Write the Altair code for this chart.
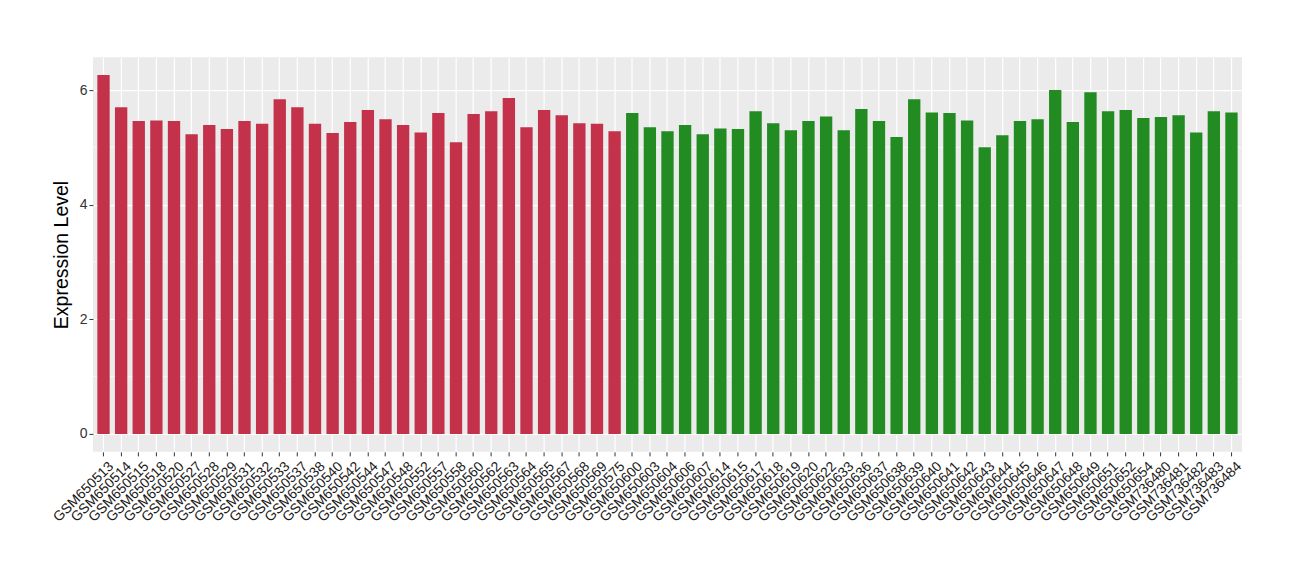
import altair as alt
import pandas as pd

samples_a = ["GSM650513", "GSM650514", "GSM650515", "GSM650518", "GSM650520", "GSM650527",
             "GSM650528", "GSM650529", "GSM650531", "GSM650532", "GSM650533", "GSM650537",
             "GSM650538", "GSM650540", "GSM650542", "GSM650544", "GSM650547", "GSM650548",
             "GSM650552", "GSM650557", "GSM650558", "GSM650560", "GSM650562", "GSM650563",
             "GSM650564", "GSM650565", "GSM650567", "GSM650568", "GSM650569", "GSM650575"]
values_a = [6.26, 5.70, 5.46, 5.47, 5.46, 5.23, 5.39, 5.32, 5.46, 5.41,
            5.84, 5.70, 5.41, 5.25, 5.44, 5.65, 5.49, 5.39, 5.26, 5.60,
            5.09, 5.58, 5.63, 5.86, 5.35, 5.65, 5.56, 5.42, 5.41, 5.28]

samples_b = ["GSM650600", "GSM650603", "GSM650604", "GSM650606", "GSM650607", "GSM650614",
             "GSM650615", "GSM650617", "GSM650618", "GSM650619", "GSM650620", "GSM650622",
             "GSM650633", "GSM650636", "GSM650637", "GSM650638", "GSM650639", "GSM650640",
             "GSM650641", "GSM650642", "GSM650643", "GSM650644", "GSM650645", "GSM650646",
             "GSM650647", "GSM650648", "GSM650649", "GSM650651", "GSM650652", "GSM650654",
             "GSM736480", "GSM736481", "GSM736482", "GSM736483", "GSM736484"]
values_b = [5.60, 5.35, 5.28, 5.39, 5.23, 5.33, 5.32, 5.63, 5.42, 5.30,
            5.46, 5.54, 5.30, 5.67, 5.46, 5.18, 5.84, 5.61, 5.60, 5.47,
            5.00, 5.21, 5.46, 5.49, 6.00, 5.44, 5.96, 5.63, 5.65, 5.51,
            5.53, 5.56, 5.26, 5.63, 5.61]

groups = ["Group A", "Group B"]
group_colors = ["#C3314A", "#228B22"]
major_ticks = [0, 2, 4, 6]
minor_ticks = [1, 3, 5]

df = pd.DataFrame({
    "sample": samples_a + samples_b,
    "value": values_a + values_b,
    "group": [groups[0]] * len(samples_a) + [groups[1]] * len(samples_b),
})
order = samples_a + samples_b

ydomain = [-0.313, 6.573]
yscale = alt.Scale(domain=ydomain, nice=False, zero=False)
yaxis = alt.Axis(title="Expression Level", values=major_ticks, titleFontSize=19.5,
                 titleFontWeight="normal", titleColor="black", titlePadding=8,
                 labelFontSize=14, labelColor="#333333", labelPadding=2,
                 tickSize=4, tickColor="#333333", domain=False,
                 grid=True, gridColor="white", gridWidth=1.2)

minor = alt.Chart(pd.DataFrame({"v": minor_ticks})).mark_rule(
    color="white", strokeWidth=0.6
).encode(y=alt.Y("v:Q", scale=yscale, axis=yaxis))

bars = alt.Chart(df).mark_bar().encode(
    x=alt.X("sample:N", sort=order,
            scale=alt.Scale(paddingInner=0.3, paddingOuter=0.25),
            axis=alt.Axis(title=None, labelAngle=-45, labelAlign="right", labelBaseline="top",
                          labelFontSize=14, labelColor="#1A1A1A", labelPadding=3, labelOffset=3,
                          tickSize=4, tickColor="#333333", domain=False,
                          grid=True, gridColor="white", gridWidth=1.2,
                          bandPosition=0.5, labelOverlap=False)),
    y=alt.Y("value:Q", scale=yscale, axis=yaxis),
    y2=alt.datum(0),
    color=alt.Color("group:N", scale=alt.Scale(domain=groups, range=group_colors), legend=None),
)

chart = alt.layer(minor, bars).properties(
    width=1150, height=395,
    autosize=alt.AutoSizeParams(type="none"),
    padding={"left": 85, "top": 49, "right": 50, "bottom": 120},
).configure(
    font="Liberation Sans", background="white"
).configure_view(fill="#EBEBEB", strokeWidth=0)

chart.save("out.html", embed_options={"renderer": "svg", "actions": False})
